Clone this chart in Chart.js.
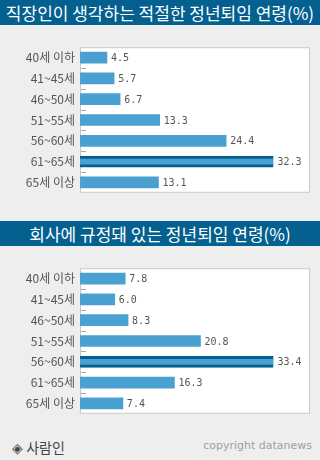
<!DOCTYPE html>
<html>
<head>
<meta charset="utf-8">
<script src="https://cdn.jsdelivr.net/npm/chart.js@4/dist/chart.umd.min.js"></script>
<style>
  body { margin: 0; width: 320px; height: 460px; background: #eeeeee; position: relative; overflow: hidden; font-family: "Noto Sans CJK KR", sans-serif; }
  .title { position: absolute; left: 0; width: 320px; height: 25px; line-height: 25px; background: #03608f; color: #fff; font-size: 17px; text-align: center; white-space: nowrap; }
  .box { position: absolute; left: 0; width: 320px; height: 170px; }
  .src { position: absolute; left: 12px; top: 437px; font-size: 14px; color: #444; }
  .copy { position: absolute; right: 8px; top: 439px; font-family: "DejaVu Sans", sans-serif; font-size: 11px; color: #a0a0a0; }
</style>
</head>
<body>
<div class="title" style="top:0">직장인이 생각하는 적절한 정년퇴임 연령(%)</div>
<div class="box" style="top:35px"><canvas id="chart-1"></canvas></div>
<div class="title" style="top:221px">회사에 규정돼 있는 정년퇴임 연령(%)</div>
<div class="box" style="top:256px"><canvas id="chart-2"></canvas></div>
<div class="src">◈ 사람인</div>
<div class="copy">copyright datanews</div>
<script>
var ages = ['40세 이하', '41~45세', '46~50세', '51~55세', '56~60세', '61~65세', '65세 이상'];
var idealAge = [4.5, 5.7, 6.7, 13.3, 24.4, 32.3, 13.1];
var companyAge = [7.8, 6.0, 8.3, 20.8, 33.4, 16.3, 7.4];

var boxPlugin = {
    id: 'boxPlugin',
    beforeDraw: function(chart) {
        var a = chart.chartArea, c = chart.ctx;
        c.save();
        c.fillStyle = '#ffffff';
        c.fillRect(a.left, a.top, a.right - a.left, a.bottom - a.top);
        c.strokeStyle = '#c8c8c8';
        c.lineWidth = 1;
        c.strokeRect(a.left + 0.5, a.top + 0.5, a.right - a.left - 1, a.bottom - a.top - 1);
        c.restore();
    },
    afterDatasetsDraw: function(chart) {
        var c = chart.ctx, y = chart.scales.y, a = chart.chartArea;
        c.save();
        // petits traits entre les catégories
        c.strokeStyle = '#aaaaaa';
        c.lineWidth = 1;
        for (var i = 1; i < ages.length; i++) {
            var py = Math.round((y.getPixelForValue(i - 1) + y.getPixelForValue(i)) / 2) + 0.5;
            c.beginPath();
            c.moveTo(a.left + 1, py);
            c.lineTo(a.left + 6, py);
            c.stroke();
        }
        // valeurs
        c.fillStyle = '#555555';
        c.font = '10px "DejaVu Sans Mono", monospace';
        c.textBaseline = 'middle';
        var meta = chart.getDatasetMeta(0);
        meta.data.forEach(function(bar, i) {
            var v = chart.data.datasets[0].data[i];
            c.fillText(v.toFixed(1), bar.x + 4, bar.y + 1);
        });
        c.restore();
    }
};

function makeChart(id, values, xMax) {
    var maxVal = Math.max.apply(null, values);
    var ctx = document.getElementById(id).getContext('2d');
    return new Chart(ctx, {
        type: 'bar',
        data: {
            labels: ages,
            datasets: [{
                data: values,
                backgroundColor: '#4aa0d0',
                borderColor: '#03608f',
                borderWidth: values.map(function(v) {
                    return v === maxVal ? { top: 3, bottom: 3, left: 0, right: 0 } : 0;
                }),
                borderSkipped: false,
                barThickness: 11
            }]
        },
        options: {
            indexAxis: 'y',
            responsive: true,
            maintainAspectRatio: false,
            animation: false,
            layout: { padding: { left: 0, right: 10, top: 0, bottom: 0 } },
            plugins: { legend: { display: false }, tooltip: { enabled: false } },
            scales: {
                x: { display: false, min: 0, max: xMax },
                y: {
                    grid: { display: false, drawTicks: false },
                    border: { display: false },
                    ticks: {
                        padding: 5,
                        color: '#555555',
                        font: { family: '"Noto Sans CJK KR"', size: 12 }
                    },
                    afterFit: function(scale) { scale.width = 80; }
                }
            }
        },
        plugins: [boxPlugin]
    });
}

document.addEventListener("DOMContentLoaded", function() {
    makeChart('chart-1', idealAge, 38.4);
    makeChart('chart-2', companyAge, 39.7);
});
</script>
</body>
</html>
